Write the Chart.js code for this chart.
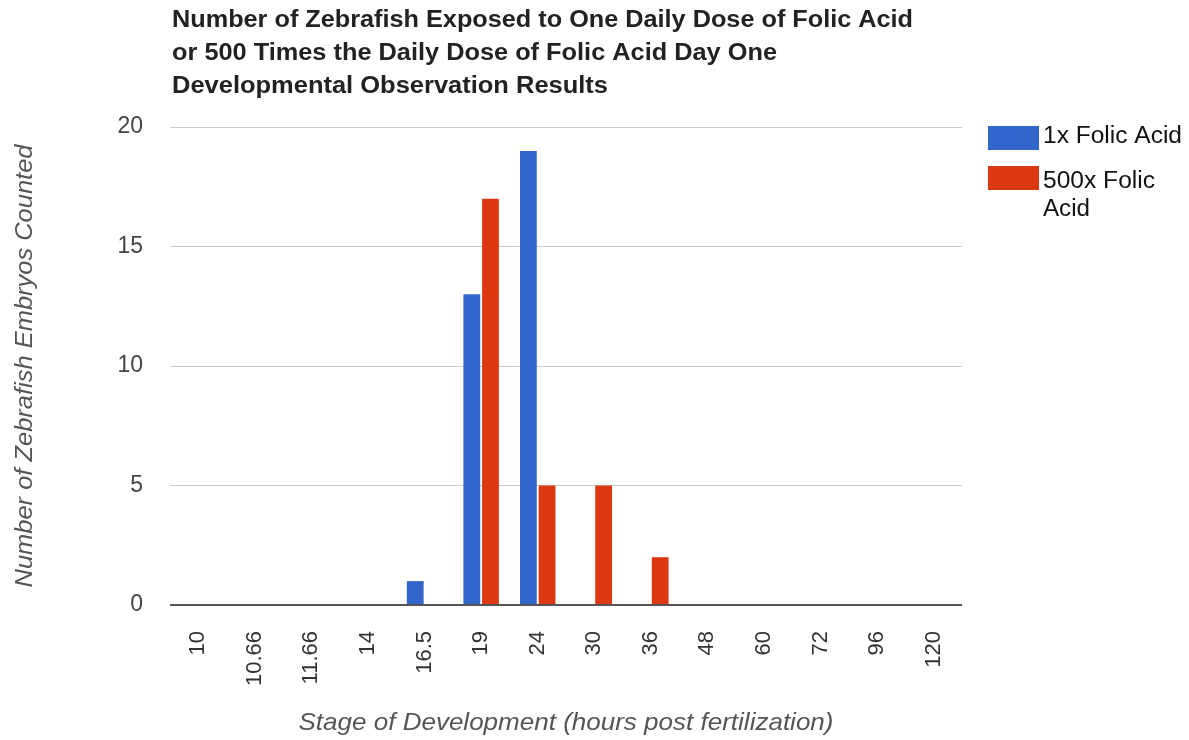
<!DOCTYPE html>
<html>
<head>
<meta charset="utf-8">
<title>Zebrafish Folic Acid Day One</title>
<script src="https://cdn.jsdelivr.net/npm/chart.js@4.4.1/dist/chart.umd.min.js"></script>
<style>
  html, body { margin: 0; padding: 0; background: #ffffff; }
  #wrap { width: 1189px; height: 740px; position: relative; }
</style>
</head>
<body>
<div id="wrap"><canvas id="chart" width="1189" height="740"></canvas></div>
<script>
// Stage of development (hours post fertilization)
const stages = ['10', '10.66', '11.66', '14', '16.5', '19', '24', '30', '36', '48', '60', '72', '96', '120'];
// Embryo counts per stage
const oneX = [0, 0, 0, 0, 1, 13, 19, 0, 0, 0, 0, 0, 0, 0];
const fiveHundredX = [0, 0, 0, 0, 0, 17, 5, 5, 2, 0, 0, 0, 0, 0];
const seriesNames = ['1x Folic Acid', '500x Folic Acid'];
const yTicks = [0, 5, 10, 15, 20];

const titleLines = [
  'Number of Zebrafish Exposed to One Daily Dose of Folic Acid',
  'or 500 Times the Daily Dose of Folic Acid Day One',
  'Developmental Observation Results'
];
const xTitle = 'Stage of Development (hours post fertilization)';
const yTitle = 'Number of Zebrafish Embryos Counted';

const BLUE = '#3366cc';
const RED = '#dc3912';
const FAMILY = '"Liberation Sans", Arial, sans-serif';

// Draw text scaled horizontally so it spans a given width
function fitText(ctx, text, x, y, width, font, color, angle) {
  ctx.save();
  ctx.font = font;
  ctx.fillStyle = color;
  ctx.textBaseline = 'alphabetic';
  ctx.textAlign = 'left';
  const w = ctx.measureText(text).width;
  ctx.translate(x, y);
  if (angle) ctx.rotate(angle);
  ctx.scale(width / w, 1);
  ctx.fillText(text, 0, 0);
  ctx.restore();
}

const textPlugin = {
  id: 'chartText',
  afterDraw(chart) {
    const ctx = chart.ctx;
    const area = chart.chartArea;

    // Title, three lines
    const titleWidths = [741, 605, 436];
    const titleBase = [27, 60, 93];
    titleLines.forEach((line, i) => {
      fitText(ctx, line, 172, titleBase[i], titleWidths[i], 'bold 23px ' + FAMILY, '#222222');
    });

    // Axis titles
    const xCenter = (area.left + area.right) / 2;
    const xw = 535;
    fitText(ctx, xTitle, xCenter - xw / 2, 730, xw, 'italic 24px ' + FAMILY, '#555555');
    const yCenter = (area.top + area.bottom) / 2;
    const yw = 443;
    fitText(ctx, yTitle, 32, yCenter + yw / 2, yw, 'italic 24px ' + FAMILY, '#555555', -Math.PI / 2);

    // Legend
    const ds = chart.data.datasets;
    const legendRows = [
      { box: [988, 126, 51, 24], lines: [[seriesNames[0], 143, 139]] },
      { box: [988, 166, 51, 24], lines: [['500x Folic', 188, 112], ['Acid', 216, 47]] }
    ];
    legendRows.forEach((row, i) => {
      ctx.save();
      ctx.fillStyle = ds[i].backgroundColor;
      ctx.fillRect(row.box[0], row.box[1], row.box[2], row.box[3]);
      ctx.restore();
      row.lines.forEach(l => fitText(ctx, l[0], 1043, l[1], l[2], '23px ' + FAMILY, '#111111'));
    });
  }
};

const bgPlugin = {
  id: 'bg',
  beforeDraw(chart) {
    const ctx = chart.ctx;
    ctx.save();
    ctx.fillStyle = '#ffffff';
    ctx.fillRect(0, 0, chart.width, chart.height);
    ctx.restore();
  }
};

new Chart(document.getElementById('chart'), {
  type: 'bar',
  data: {
    labels: stages,
    datasets: [
      { label: seriesNames[0], data: oneX, backgroundColor: BLUE },
      { label: seriesNames[1], data: fiveHundredX, backgroundColor: RED }
    ]
  },
  options: {
    responsive: false,
    animation: false,
    devicePixelRatio: 1,
    layout: { padding: { top: 127, right: 227, left: 0, bottom: 0 } },
    datasets: { bar: { categoryPercentage: 0.66, barPercentage: 0.9 } },
    plugins: {
      legend: { display: false },
      title: { display: false },
      tooltip: { enabled: false }
    },
    scales: {
      x: {
        grid: { display: false, drawTicks: false },
        border: { display: false },
        ticks: {
          autoSkip: false,
          minRotation: 90,
          maxRotation: 90,
          padding: 26,
          color: '#333333',
          font: { family: FAMILY, size: 22 }
        },
        afterFit(scale) { scale.height = 135; }
      },
      y: {
        min: 0,
        max: 20,
        afterBuildTicks(scale) { scale.ticks = yTicks.map(v => ({ value: v })); },
        grid: {
          drawTicks: false,
          color: c => (c.tick && c.tick.value === 0 ? '#555555' : '#cccccc'),
          lineWidth: c => (c.tick && c.tick.value === 0 ? 2 : 1)
        },
        border: { display: false },
        ticks: {
          padding: 27,
          color: '#444444',
          font: { family: FAMILY, size: 23 }
        },
        afterFit(scale) { scale.width = 170; }
      }
    }
  },
  plugins: [bgPlugin, textPlugin]
});
</script>
</body>
</html>
